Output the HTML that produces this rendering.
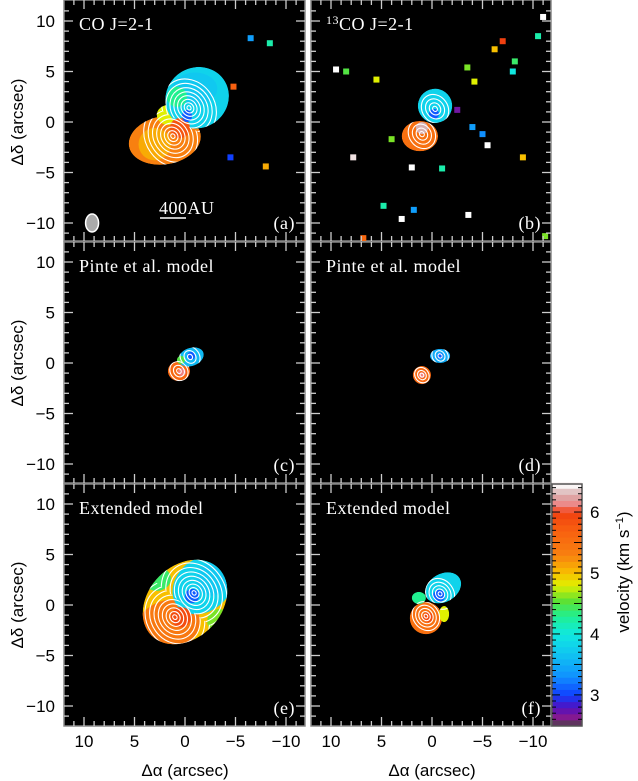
<!DOCTYPE html>
<html><head><meta charset="utf-8">
<style>
html,body{margin:0;padding:0;background:#fff;}
svg{display:block;}
text{font-family:"Liberation Sans",sans-serif;}
.lbl{font-family:"Liberation Serif",serif;fill:#fff;font-size:18px;letter-spacing:0.5px;}
</style></head>
<body>
<svg id="fig" width="638" height="781" viewBox="0 0 638 781" xmlns="http://www.w3.org/2000/svg"></svg>
<script>
// ---- data ----
const xTicks = [10, 5, 0, -5, -10];
const yTicks = [10, 5, 0, -5, -10];
const cbTicks = [3, 4, 5, 6];
const cbMin = 2.49, cbMax = 6.46;
const panelLetters = ['a','b','c','d','e','f'];
const panelTitles = ['CO J=2-1','13CO J=2-1','Pinte et al. model','Pinte et al. model','Extended model','Extended model'];
// lobes per panel: [cx, cy (arcsec), rx, ry (arcsec), rot(deg), velocity]
const lobesA = [[2.0,-1.8,3.6,2.4,-10,5.3],[3.0,-2.2,1.6,1.6,0,5.1],[1.6,0.7,1.2,1.0,0,4.8],[-1.2,2.4,3.2,3.0,-30,3.8],[-1.0,3.3,2.2,1.6,0,3.7],[0.8,2.5,1.0,1.0,0,4.3],[0.5,-0.6,1.0,1.0,0,5.8],[-0.2,0.6,0.5,0.6,0,3.1]];
const lobesB = [[1.2,-1.4,1.8,1.5,0,5.5],[-0.3,1.6,1.7,1.7,-30,3.8],[1.0,-0.6,0.6,0.6,0,6.3],[-0.2,0.8,0.5,0.5,0,3.1]];
const lobesC = [[0.6,-0.8,1.1,1.0,0,5.6],[-0.6,0.6,1.3,0.9,-20,3.6],[0.4,0.3,0.4,0.4,0,4.5],[0.3,-0.9,0.4,0.4,0,6.1],[-0.6,0.7,0.4,0.4,0,3.1]];
const lobesD = [[1.0,-1.2,0.9,0.9,0,5.6],[-0.8,0.7,1.0,0.7,0,3.5],[1.0,-1.2,0.3,0.3,0,6.1],[-0.8,0.7,0.3,0.3,0,3.1]];
const lobesE = [[0,0.3,4.7,3.6,-45,5.0],[1.8,-2.2,3.4,2.6,-25,5.4],[-1.8,2.0,3.3,2.6,-40,3.8],[-2.8,2.6,1.8,1.6,-40,3.7],[2.8,2.6,1.4,1.2,0,4.4],[0.4,-1.2,1.0,1.0,0,5.9],[-0.7,0.9,0.7,0.7,0,3.1],[-3.4,-1.6,1.2,1.2,0,4.6]];
const lobesF = [[0.6,-1.3,1.6,1.6,0,5.5],[-1.1,1.7,1.9,1.4,-30,3.8],[1.3,0.7,0.7,0.6,0,4.3],[-1.2,-0.9,0.5,0.8,0,4.8],[-0.7,0.9,0.6,0.6,0,3.1],[0.4,-1.2,0.5,0.5,0,5.9]];
const lobes = [lobesA, lobesB, lobesC, lobesD, lobesE, lobesF];
// contour centres per panel: [cx, cy, maxR arcsec, count]
const contoursA = [[-0.4,1.4,3.0,8],[1.2,-1.4,3.2,8]];
const contoursB = [[-0.3,1.3,1.5,4],[1.0,-1.2,1.5,4]];
const contoursC = [[-0.5,0.6,1.1,3],[0.6,-0.8,1.0,3]];
const contoursD = [[-0.8,0.7,0.9,3],[1.0,-1.2,0.8,3]];
const contoursE = [[-0.9,1.2,3.6,9],[1.0,-1.2,3.8,9]];
const contoursF = [[-0.8,1.1,1.6,5],[0.6,-1.1,1.5,5]];
const contours = [contoursA, contoursB, contoursC, contoursD, contoursE, contoursF];
// noise pixels: [x, y, velocity]
const noiseA = [[-6.5,8.3,3.4],[-8.4,7.8,4.2],[-4.8,3.5,5.7],[-4.5,-3.5,3.0],[-8.0,-4.4,5.1]];
const noiseB = [[9.5,5.2,6.5],[8.5,5.0,4.5],[5.5,4.2,4.8],[-3.5,5.4,4.6],[-4.2,4.0,4.8],[-8.0,5.0,4.0],[-6.2,7.2,5.0],[-2.5,1.2,2.7],[4.0,-1.7,4.6],[7.8,-3.5,6.4],[2.0,-4.5,6.5],[-5.5,-2.3,6.5],[-5.0,-1.2,3.3],[-4.0,-0.5,3.4],[-1.0,-4.6,4.2],[-9.0,-3.5,5.0],[4.8,-8.3,4.2],[1.8,-8.7,3.4],[-3.6,-9.2,6.5],[3.0,-9.6,6.5],[-11.2,-11.3,4.6],[6.8,-11.5,5.6],[-11.0,10.4,6.5],[-7.0,8.0,6.0],[-10.5,8.5,4.2],[-8.2,6.0,4.4]];
const noise = [noiseA, noiseB, [], [], [], []];

// ---- layout ----
const colX = [[64,305,185],[311,551,432]];
const rowY = [[0,241,122],[242,483,363],[484,726,605]];
const S = 10.1;
const NS = 'http://www.w3.org/2000/svg';
const svg = document.getElementById('fig');
function el(tag, attrs, parent){const e=document.createElementNS(NS,tag);for(const k in attrs)e.setAttribute(k,attrs[k]);(parent||svg).appendChild(e);return e;}

const cstops=[[2.49,[68,68,68]],[2.62,[139,26,139]],[2.8,[80,16,192]],[3.0,[16,64,255]],[3.3,[16,144,255]],[3.7,[16,200,240]],[4.0,[16,232,224]],[4.3,[32,240,144]],[4.55,[96,224,48]],[4.8,[224,240,0]],[5.0,[248,192,0]],[5.3,[248,128,16]],[5.7,[248,96,16]],[6.0,[240,64,16]],[6.1,[240,128,128]],[6.3,[216,176,176]],[6.46,[255,255,255]]];
function vcol(v){for(let i=1;i<cstops.length;i++){if(v<=cstops[i][0]){const a=cstops[i-1],b=cstops[i];const t=(v-a[0])/(b[0]-a[0]);const c=a[1].map((x,j)=>Math.round(x+(b[1][j]-x)*t));return `rgb(${c})`;}}return '#fff';}

const defs = el('defs',{});

for(let p=0;p<6;p++){
  const c=colX[p%2], r=rowY[Math.floor(p/2)];
  const ax = x => c[2]-x*S, ay = y => r[2]-y*S;
  const g = el('g',{});
  
  
  el('rect',{x:c[0],y:r[0],width:c[1]-c[0],height:r[1]-r[0],fill:'#000',stroke:'#888','stroke-width':1.5},g);
  const cp = el('clipPath',{id:'cp'+p},defs);
  el('rect',{x:c[0],y:r[0],width:c[1]-c[0],height:r[1]-r[0]},cp);
  const inner = el('g',{'clip-path':`url(#cp${p})`},g);
  // emission mask: union of lobes (panel e: only bounding ellipse)
  const mk = el('clipPath',{id:'mk'+p},defs);
  lobes[p].forEach((L,i)=>{
    if(p===4 && i>0) return;
    el('ellipse',{cx:ax(L[0]),cy:ay(L[1]),rx:L[2]*S,ry:L[3]*S,transform:`rotate(${L[4]} ${ax(L[0])} ${ay(L[1])})`},mk);
  });
  const lg = el('g',{'clip-path':`url(#mk${p})`},inner);
  lobes[p].forEach((L,i)=>{
    const e=el('ellipse',{cx:ax(L[0]),cy:ay(L[1]),rx:L[2]*S,ry:L[3]*S,transform:`rotate(${L[4]} ${ax(L[0])} ${ay(L[1])})`,fill:vcol(L[5])},lg);
    
    
  });
  // contours, each group clipped to its half-plane
  const cs=contours[p];
  const A=[ax(cs[0][0]),ay(cs[0][1])], B=[ax(cs[1][0]),ay(cs[1][1])];
  const M=[(A[0]+B[0])/2,(A[1]+B[1])/2];
  const d=[B[0]-A[0],B[1]-A[1]]; const dl=Math.hypot(d[0],d[1]); const u=[d[0]/dl,d[1]/dl]; const n=[-u[1],u[0]];
  cs.forEach((C,gi)=>{
    const sgn = gi===0?-1:1;
    const hp = el('clipPath',{id:`hp${p}_${gi}`},defs);
    const P=k=>[M[0]+n[0]*k[0]+u[0]*k[1]*sgn, M[1]+n[1]*k[0]+u[1]*k[1]*sgn];
    const pts=[P([-300,0]),P([300,0]),P([300,300]),P([-300,300])].map(q=>q.join(',')).join(' ');
    el('polygon',{points:pts},hp);
    const cg=el('g',{'clip-path':`url(#hp${p}_${gi})`},lg);
    for(let k=1;k<=C[3];k++){
      const rr=C[2]*S*Math.pow(k/C[3],1.25);
      el('ellipse',{cx:ax(C[0]),cy:ay(C[1]),rx:rr*0.85,ry:rr,fill:'none',stroke:'#fff','stroke-width':1.1,transform:`rotate(-35 ${ax(C[0])} ${ay(C[1])})`},cg);
    }
  });
  noise[p].forEach(N=>{
    const q=el('rect',{x:ax(N[0])-3,y:ay(N[1])-3,width:6,height:6,fill:vcol(N[2])},inner);
    
    
  });
  // ticks
  for(let t=-11;t<=12;t++){
    const len=(t%5===0)?9:5, X=ax(t);
    if(X<c[0]+1||X>c[1]-1) continue;
    el('line',{x1:X,x2:X,y1:r[0],y2:r[0]+len,stroke:'#ccc','stroke-width':1.3},g);
    el('line',{x1:X,x2:X,y1:r[1],y2:r[1]-len,stroke:'#ccc','stroke-width':1.3},g);
  }
  for(let t=-12;t<=12;t++){
    const len=(t%5===0)?9:5, Y=ay(t);
    if(Y<r[0]+1||Y>r[1]-1) continue;
    el('line',{y1:Y,y2:Y,x1:c[0],x2:c[0]+len,stroke:'#ccc','stroke-width':1.3},g);
    el('line',{y1:Y,y2:Y,x1:c[1],x2:c[1]-len,stroke:'#ccc','stroke-width':1.3},g);
  }
  const tt=el('text',{x:c[0]+15,y:r[0]+30,class:'lbl'},g);
  
  
  if(p===1){tt.innerHTML='<tspan font-size="12" dy="-6">13</tspan><tspan dy="6">CO J=2-1</tspan>';}
  else tt.textContent=panelTitles[p];
  const lt=el('text',{x:c[1]-10,y:r[1]-12,class:'lbl','text-anchor':'end'},g);
  
  
  lt.textContent='('+panelLetters[p]+')';
  if(p===0){
    const b=el('ellipse',{cx:ax(9.2),cy:ay(-10),rx:6.5,ry:9,fill:'#aaa',stroke:'#fff','stroke-width':1.5},g);
    
    
    const sb=el('text',{x:159,y:214,class:'lbl','font-size':'17'},g);
    
    
    sb.textContent='400AU';
    el('line',{x1:160,x2:186,y1:218,y2:218,stroke:'#fff','stroke-width':1.5},g);
  }
  if(p%2===0){
    yTicks.forEach(v=>{
      const t=el('text',{x:55,y:ay(v)+6,'text-anchor':'end','font-size':'17',fill:'#000'});
      
      
      t.textContent=v<0?'\u2212'+(-v):v;
    });
    const yl=el('text',{x:0,y:0,'font-size':'17',fill:'#000','text-anchor':'middle',transform:`translate(23 ${r[2]}) rotate(-90)`});
    
    
    yl.textContent='\u0394\u03b4 (arcsec)';
  }
  if(p>=4){
    xTicks.forEach(v=>{
      const t=el('text',{x:ax(v),y:747,'text-anchor':'middle','font-size':'17',fill:'#000'});
      
      
      t.textContent=v<0?'\u2212'+(-v):v;
    });
    const xl=el('text',{x:c[2],y:776,'font-size':'17',fill:'#000','text-anchor':'middle'});
    
    
    xl.textContent='\u0394\u03b1 (arcsec)';
  }
}
// colorbar
const cb = el('g',{});


const cbTop=484, cbBot=726, cbX=552, cbW=30;
const cy = v => cbBot-(v-cbMin)/(cbMax-cbMin)*(cbBot-cbTop);
for(let v=cbMin; v<cbMax; v+=0.1){
  el('rect',{x:cbX,y:cy(v+0.1),width:cbW,height:cy(v)-cy(v+0.1)+0.5,fill:vcol(v+0.05)},cb);
}
el('rect',{x:cbX,y:cbTop,width:cbW,height:cbBot-cbTop,fill:'none',stroke:'#555','stroke-width':1.5},cb);
for(let v=2.6; v<6.45; v+=0.1){
  const major=Math.abs(v*2-Math.round(v*2))<0.01;
  const len=major?8:4;
  el('line',{x1:cbX,x2:cbX+len,y1:cy(v),y2:cy(v),stroke:'#000','stroke-width':1},cb);
  el('line',{x1:cbX+cbW,x2:cbX+cbW-len,y1:cy(v),y2:cy(v),stroke:'#000','stroke-width':1},cb);
}
cbTicks.forEach(v=>{
  const t=el('text',{x:590,y:cy(v)+6,'font-size':'17',fill:'#000'},cb);
  
  
  t.textContent=v;
});
const ct=el('text',{x:0,y:0,'font-size':'17',fill:'#000','text-anchor':'middle',transform:'translate(629 572) rotate(-90)'},cb);


ct.innerHTML='velocity (km s<tspan font-size="11" dy="-6">\u22121</tspan><tspan dy="6">)</tspan>';
</script>
</body></html>
